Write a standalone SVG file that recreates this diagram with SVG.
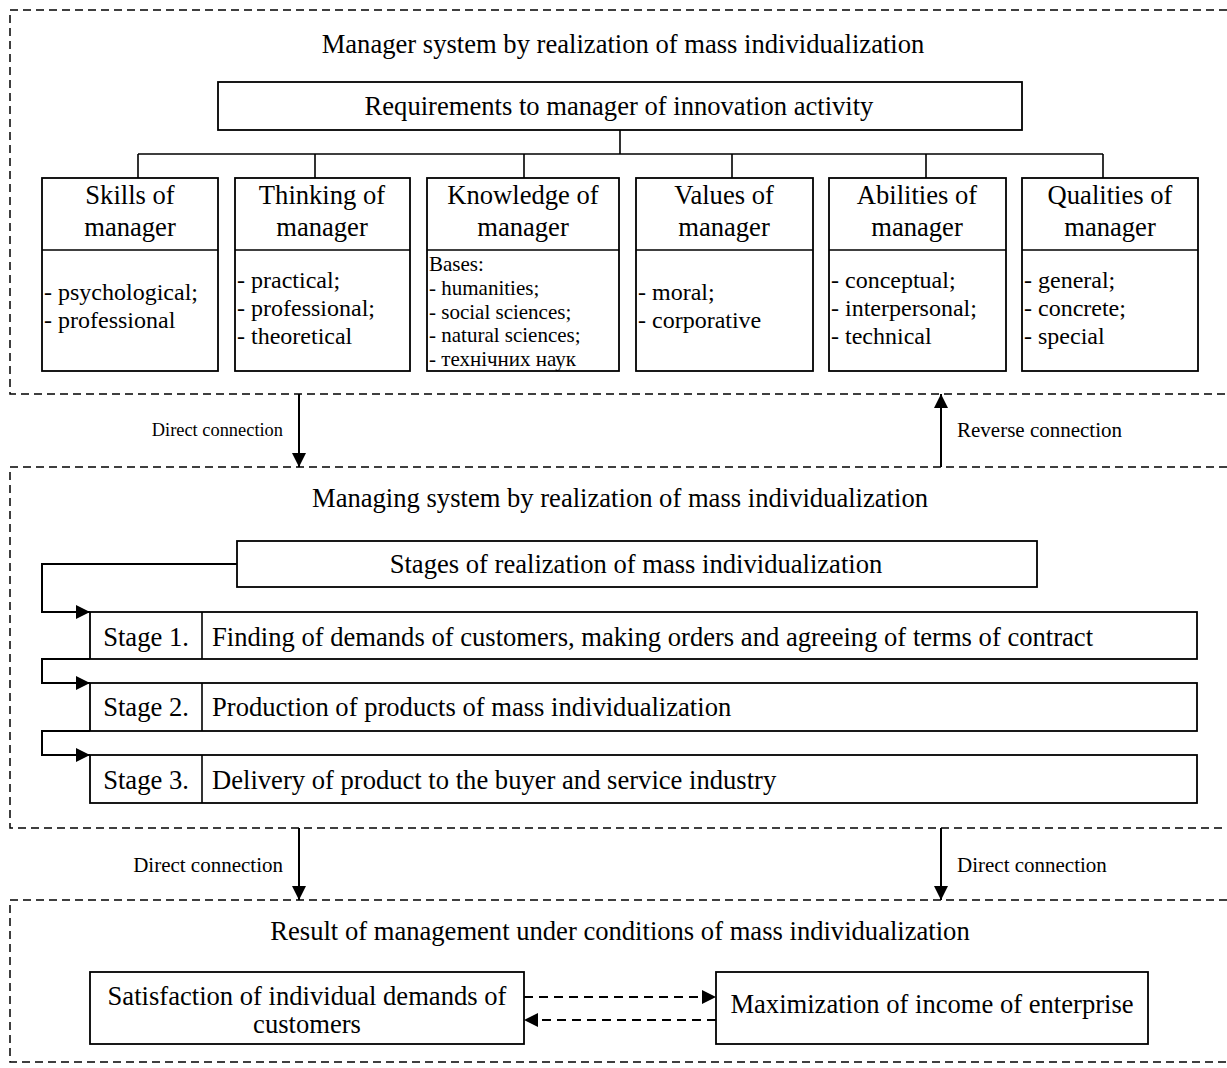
<svg xmlns="http://www.w3.org/2000/svg" width="1227" height="1068" viewBox="0 0 1227 1068">
<defs>
<marker id="ah" viewBox="0 0 14 14" markerWidth="14" markerHeight="14" refX="14" refY="7" orient="auto" markerUnits="userSpaceOnUse"><path d="M0,0 L14,7 L0,14 z" fill="#000"/></marker>
</defs>
<style>
text{font-family:"Liberation Serif","Times New Roman",serif;fill:#000}
.t{font-size:26.6px}
.c{text-anchor:middle}
.e{text-anchor:end}
.l{font-size:24px}
.s{font-size:21px}
.sm{font-size:18.4px}
.box{fill:#fff;stroke:#000;stroke-width:1.8}
.frame{fill:none;stroke:#000;stroke-width:1.5;stroke-dasharray:8 5}
.ln{fill:none;stroke:#000;stroke-width:1.6}
.ar{fill:none;stroke:#000;stroke-width:2;marker-end:url(#ah)}
.da{fill:none;stroke:#000;stroke-width:2;stroke-dasharray:9 6;marker-end:url(#ah)}
</style>
<rect x="0" y="0" width="1227" height="1068" fill="#fff"/>

<g id="frame-manager-system">
<path class="frame" d="M1227,10 H10 V394 H1227"/>
<text class="t c" x="623" y="53">Manager system by realization of mass individualization</text>
</g>
<g id="frame-managing-system">
<path class="frame" d="M1227,467 H10 V828 H1227"/>
<text class="t c" x="620" y="507">Managing system by realization of mass individualization</text>
</g>
<g id="frame-result">
<path class="frame" d="M1227,900 H10 V1062 H1227"/>
<text class="t c" x="620" y="940">Result of management under conditions of mass individualization</text>
</g>

<g id="connectors">
<path class="ln" d="M620,130 V154 M138,154 H1103 M138,154 V178 M315,154 V178 M524,154 V178 M732,154 V178 M926,154 V178 M1103,154 V178"/>
<path class="ar" d="M299,394 V467"/>
<path class="ar" d="M941,467 V394"/>
<path class="ar" d="M299,828 V900"/>
<path class="ar" d="M941,828 V900"/>
<path class="ar" d="M237,564 H42 V612 H90"/>
<path class="ar" d="M90,659 H42 V683 H90"/>
<path class="ar" d="M90,731 H42 V755 H90"/>
<path class="da" d="M524,997 H716"/>
<path class="da" d="M716,1020 H524"/>
<text class="sm e" x="283" y="436">Direct connection</text>
<text class="s" x="957" y="437">Reverse connection</text>
<text class="s e" x="283" y="872">Direct connection</text>
<text class="s" x="957" y="872">Direct connection</text>
</g>

<g id="requirements">
<rect class="box" x="218" y="82" width="804" height="48"/>
<text class="t c" x="619" y="115">Requirements to manager of innovation activity</text>
</g>

<g id="skills">
<rect class="box" x="42" y="178" width="176" height="193"/>
<line class="ln" x1="42" y1="250" x2="218" y2="250"/>
<text class="t c" x="130" y="204">Skills of</text>
<text class="t c" x="130" y="236">manager</text>
<text class="l" x="44" y="300">- psychological;</text>
<text class="l" x="44" y="328">- professional</text>
</g>

<g id="thinking">
<rect class="box" x="235" y="178" width="175" height="193"/>
<line class="ln" x1="235" y1="250" x2="410" y2="250"/>
<text class="t c" x="322" y="204">Thinking of</text>
<text class="t c" x="322" y="236">manager</text>
<text class="l" x="237" y="288">- practical;</text>
<text class="l" x="237" y="316">- professional;</text>
<text class="l" x="237" y="344">- theoretical</text>
</g>

<g id="knowledge">
<rect class="box" x="427" y="178" width="192" height="193"/>
<line class="ln" x1="427" y1="250" x2="619" y2="250"/>
<text class="t c" x="523" y="204">Knowledge of</text>
<text class="t c" x="523" y="236">manager</text>
<text class="s" x="429" y="271">Bases:</text>
<text class="s" x="429" y="295">- humanities;</text>
<text class="s" x="429" y="319">- social sciences;</text>
<text class="s" x="429" y="342">- natural sciences;</text>
<text class="s" x="429" y="366">- технічних наук</text>
</g>

<g id="values">
<rect class="box" x="636" y="178" width="177" height="193"/>
<line class="ln" x1="636" y1="250" x2="813" y2="250"/>
<text class="t c" x="724" y="204">Values of</text>
<text class="t c" x="724" y="236">manager</text>
<text class="l" x="638" y="300">- moral;</text>
<text class="l" x="638" y="328">- corporative</text>
</g>

<g id="abilities">
<rect class="box" x="829" y="178" width="177" height="193"/>
<line class="ln" x1="829" y1="250" x2="1006" y2="250"/>
<text class="t c" x="917" y="204">Abilities of</text>
<text class="t c" x="917" y="236">manager</text>
<text class="l" x="831" y="288">- conceptual;</text>
<text class="l" x="831" y="316">- interpersonal;</text>
<text class="l" x="831" y="344">- technical</text>
</g>

<g id="qualities">
<rect class="box" x="1022" y="178" width="176" height="193"/>
<line class="ln" x1="1022" y1="250" x2="1198" y2="250"/>
<text class="t c" x="1110" y="204">Qualities of</text>
<text class="t c" x="1110" y="236">manager</text>
<text class="l" x="1024" y="288">- general;</text>
<text class="l" x="1024" y="316">- concrete;</text>
<text class="l" x="1024" y="344">- special</text>
</g>

<g id="stages">
<rect class="box" x="237" y="541" width="800" height="46"/>
<text class="t c" x="636" y="573">Stages of realization of mass individualization</text>
</g>

<g id="stage1">
<rect class="box" x="90" y="612" width="1107" height="47"/>
<line class="ln" x1="202" y1="612" x2="202" y2="659"/>
<text class="t c" x="146" y="646">Stage 1.</text>
<text class="t" x="212" y="646">Finding of demands of customers, making orders and agreeing of terms of contract</text>
</g>

<g id="stage2">
<rect class="box" x="90" y="683" width="1107" height="48"/>
<line class="ln" x1="202" y1="683" x2="202" y2="731"/>
<text class="t c" x="146" y="716">Stage 2.</text>
<text class="t" x="212" y="716">Production of products of mass individualization</text>
</g>

<g id="stage3">
<rect class="box" x="90" y="755" width="1107" height="48"/>
<line class="ln" x1="202" y1="755" x2="202" y2="803"/>
<text class="t c" x="146" y="789">Stage 3.</text>
<text class="t" x="212" y="789">Delivery of product to the buyer and service industry</text>
</g>

<g id="satisfaction">
<rect class="box" x="90" y="972" width="434" height="72"/>
<text class="t c" x="307" y="1005">Satisfaction of individual demands of</text>
<text class="t c" x="307" y="1033">customers</text>
</g>

<g id="maximization">
<rect class="box" x="716" y="972" width="432" height="72"/>
<text class="t c" x="932" y="1013">Maximization of income of enterprise</text>
</g>
</svg>
